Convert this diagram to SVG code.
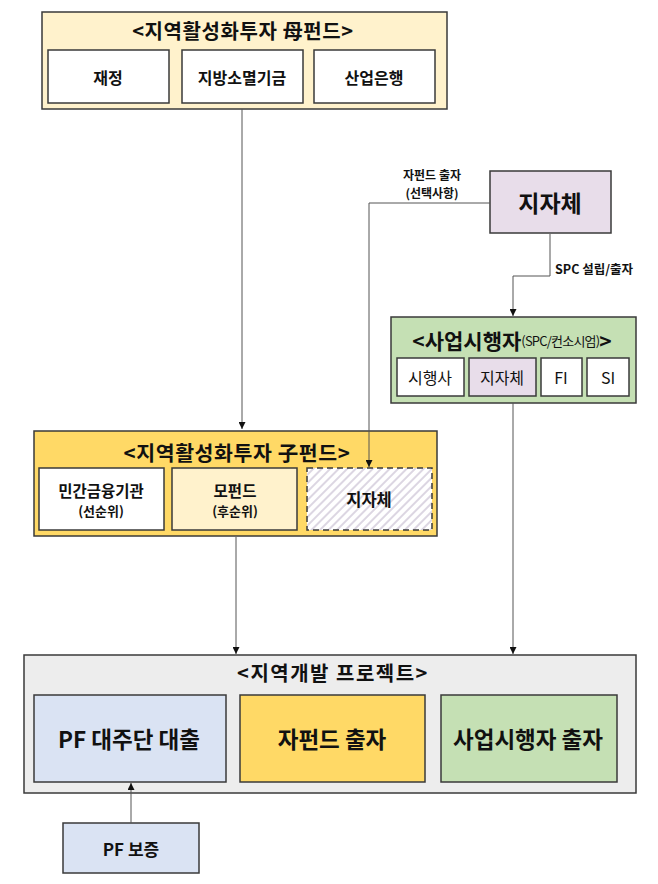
<svg xmlns="http://www.w3.org/2000/svg" width="658" height="884" viewBox="0 0 658 884">
<defs>
<style>
text{font-family:"Malgun Gothic","Noto Sans CJK KR","Noto Sans",sans-serif;fill:#111;text-anchor:middle;dominant-baseline:central}
.b{font-weight:bold}
.box{stroke:#3a3a3a;stroke-width:1.5}
.conn{fill:none;stroke:#555;stroke-width:1}
</style>
<marker id="arr" viewBox="0 0 10 10" refX="10" refY="5" markerWidth="7" markerHeight="7" markerUnits="userSpaceOnUse" orient="auto">
<path d="M0,0 L10,5 L0,10 Z" fill="#111"/>
</marker>
<pattern id="hatch" width="6" height="6" patternUnits="userSpaceOnUse" patternTransform="rotate(45)">
<rect width="6" height="6" fill="#ffffff"/>
<rect width="2" height="6" fill="#dcd6e2"/>
</pattern>
</defs>
<rect width="658" height="884" fill="#ffffff"/>

<g id="mother-fund">
<rect class="box" x="42" y="12" width="405" height="97" fill="#FFF2CC"/>
<text class="b" x="243" y="30" font-size="20" letter-spacing="0.6">&lt;지역활성화투자 母펀드&gt;</text>
<rect class="box" x="48" y="50" width="121" height="53" fill="#ffffff"/>
<text class="b" x="108" y="77" font-size="16">재정</text>
<rect class="box" x="182" y="50" width="121" height="53" fill="#ffffff"/>
<text class="b" x="242" y="77" font-size="16">지방소멸기금</text>
<rect class="box" x="314" y="50" width="121" height="53" fill="#ffffff"/>
<text class="b" x="374" y="77" font-size="16">산업은행</text>
</g>

<g id="local-gov">
<rect class="box" x="490" y="171" width="121" height="62" fill="#E8DDEA"/>
<text class="b" x="550" y="202" font-size="23">지자체</text>
</g>

<g id="developer">
<rect class="box" x="391" y="317" width="245" height="86" fill="#C5E0B4"/>
<text x="512" y="340"><tspan class="b" font-size="21">&lt;사업시행자</tspan><tspan font-size="13" letter-spacing="-0.8">(SPC/컨소시엄)</tspan><tspan class="b" font-size="21">&gt;</tspan></text>
<rect class="box" x="397" y="358" width="67" height="38" fill="#ffffff"/>
<text x="430" y="377" font-size="16">시행사</text>
<rect class="box" x="469" y="358" width="67" height="38" fill="#E8DDEA"/>
<text x="502" y="377" font-size="16">지자체</text>
<rect class="box" x="541" y="358" width="41" height="38" fill="#ffffff"/>
<text x="561" y="377" font-size="16">FI</text>
<rect class="box" x="587" y="358" width="42" height="38" fill="#ffffff"/>
<text x="608" y="377" font-size="16">SI</text>
</g>

<g id="child-fund">
<rect class="box" x="34" y="431" width="403" height="105" fill="#FFD966"/>
<text class="b" x="237" y="452" font-size="20.5" letter-spacing="0.6">&lt;지역활성화투자 子펀드&gt;</text>
<rect class="box" x="39" y="468" width="125" height="62" fill="#ffffff"/>
<text class="b" x="101" y="490" font-size="15.5">민간금융기관</text>
<text class="b" x="101" y="510" font-size="13">(선순위)</text>
<rect class="box" x="172" y="468" width="125" height="62" fill="#FFF2CC"/>
<text class="b" x="235" y="490" font-size="15.5">모펀드</text>
<text class="b" x="235" y="510" font-size="13">(후순위)</text>
<rect x="307" y="468" width="125" height="62" fill="url(#hatch)" stroke="#3a3a3a" stroke-width="1.5" stroke-dasharray="6,4"/>
<text class="b" x="369" y="499" font-size="16.5">지자체</text>
</g>

<g id="project">
<rect class="box" x="24" y="655" width="612" height="138" fill="#EDEDED"/>
<text class="b" x="333" y="672" font-size="20" letter-spacing="1.5">&lt;지역개발 프로젝트&gt;</text>
<rect class="box" x="34" y="695" width="192" height="87" fill="#DAE3F3"/>
<text class="b" x="129" y="738" font-size="22.5">PF 대주단 대출</text>
<rect class="box" x="240" y="695" width="185" height="87" fill="#FFD966"/>
<text class="b" x="332" y="738" font-size="22.5">자펀드 출자</text>
<rect class="box" x="441" y="695" width="176" height="87" fill="#C5E0B4"/>
<text class="b" x="528" y="738" font-size="22.5">사업시행자 출자</text>
</g>

<g id="pf-guarantee">
<rect class="box" x="63" y="823" width="136" height="50" fill="#DAE3F3"/>
<text class="b" x="131" y="848" font-size="17">PF 보증</text>
</g>

<g id="connectors">
<path class="conn" d="M242,109 V429" marker-end="url(#arr)"/>
<path class="conn" d="M490,203 H369 V467" marker-end="url(#arr)"/>
<path class="conn" d="M550,234 V276 H513 V316" marker-end="url(#arr)"/>
<path class="conn" d="M513,403 V654" marker-end="url(#arr)"/>
<path class="conn" d="M236,537 V654" marker-end="url(#arr)"/>
<path class="conn" d="M131,823 V783" marker-end="url(#arr)"/>
<text class="b" x="432" y="174" font-size="12">자펀드 출자</text>
<text class="b" x="432" y="192" font-size="12">(선택사항)</text>
<text class="b" x="555" y="268" font-size="12.5" style="text-anchor:start">SPC 설립/출자</text>
</g>
</svg>
